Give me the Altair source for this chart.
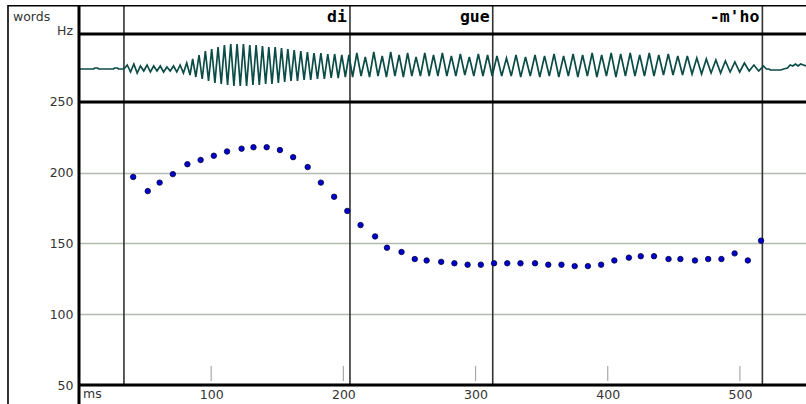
import altair as alt
import pandas as pd

# ---------------- data ----------------
# pitch track (ms, Hz)
f0_ms = [41, 52, 61, 71, 82, 92, 102, 112, 123, 132, 142, 152, 162, 173, 183, 193, 203, 213,
         224, 233, 244, 254, 263, 274, 284, 294, 304, 314, 324, 334, 345, 355, 365, 375, 385,
         395, 405, 416, 425, 435, 446, 455, 466, 476, 486, 496, 506, 516]
f0_hz = [197, 187, 193, 199, 206, 209, 212, 215, 217, 218, 218, 216, 211, 204, 193, 183, 173, 163,
         155, 147, 144, 139, 138, 137, 136, 135, 135, 136, 136, 136, 136, 135, 135, 134, 134,
         135, 138, 140, 141, 141, 139, 139, 138, 139, 139, 143, 138, 152]

# word tier
word_labels = ["di", "gue", "-m'ho"]
word_ends = [205, 313, 517]
boundaries = [34, 205, 313, 517]

# axis ticks
x_ticks = [100, 200, 300, 400, 500]
y_ticks = [50, 100, 150, 200, 250]

# waveform extrema (ms, offset in px from baseline), read per segment
pre_t = [0, 11, 12, 14, 15, 26, 27, 29, 30, 33]
pre_v = [0, 0, 1, 1, 0, 0, 1, 1, 0, 0]
onset_t = [34, 36.5, 39, 41.5, 44, 46.5, 49, 51.5, 54, 56.5, 59, 61.5, 64, 66.5, 69, 71.5, 74,
           76.5, 79, 81.5, 84]
onset_v = [0, 4, -3, 5, -4, 3, -2, 4, -3, 3, -2, 3, -3, 2, -2, 3, -3, 4, -4, 6, -6]
di_t = [86, 88.4, 90.8, 93.2, 95.6, 98, 100.4, 102.8, 105.2, 107.6, 110, 112.4, 114.8, 117.2,
        119.6, 122, 124.4, 126.8, 129.2, 131.6, 134, 136.4, 138.8, 141.2, 143.6, 146, 148.4,
        150.8, 153.2, 155.6, 158, 160.4, 162.8, 165.3, 167.8, 170.3, 172.8, 175.3, 177.8, 180.4,
        183, 185.6, 188.2, 190.8, 193.4, 196.1, 198.8, 201.5, 204.2]
di_v = [10, -8, 14, -10, 18, -12, 20, -14, 22, -15, 24, -16, 25, -17, 25, -17, 25, -17, 24, -16,
        24, -16, 23, -15, 22, -15, 22, -14, 21, -13, 20, -12, 19, -12, 18, -11, 17, -11, 16, -10,
        16, -10, 15, -9, 15, -9, 14, -8, 14]
gue_t = [207, 210.2, 213.4, 216.6, 219.8, 223, 226.2, 229.4, 232.6, 235.8, 239, 242.2, 245.4,
         248.6, 251.8, 255, 258.3, 261.6, 264.9, 268.2, 271.5, 274.9, 278.3, 281.7, 285.1, 288.5,
         291.9, 295.3, 298.7, 302.1, 305.6, 309.1, 312.6]
gue_v = [-8, 16, -7, 12, -8, 17, -7, 13, -8, 17, -7, 14, -8, 16, -7, 12, -7, 16, -7, 14,
         -7, 16, -7, 13, -7, 15, -6, 12, -7, 15, -7, 14, -7]
mho_t = [316.2, 319.8, 323.4, 327, 330.6, 334.2, 337.8, 341.4, 345, 348.6, 352.2, 355.8, 359.4,
         363, 366.6, 370.2, 373.8, 377.4, 381, 384.6, 388.2, 391.8, 395.4, 399, 402.6, 406.2,
         409.8, 413.4, 417, 420.6, 424.2, 427.8, 431.4, 435, 438.6, 442.2, 445.8, 449.4, 453,
         456.6, 460.2, 463.8, 467.4, 471, 474.6, 478.2, 481.8, 485.4, 489, 492.6, 496.2, 499.8,
         503.4, 507, 510.6, 514.2, 517.8]
mho_v = [13, -7, 11, -7, 14, -8, 12, -7, 14, -8, 13, -7, 15, -8, 13, -7, 15, -8, 14, -7,
         16, -8, 14, -7, 16, -8, 15, -7, 16, -7, 14, -7, 16, -7, 14, -6, 15, -6, 13, -6,
         13, -5, 11, -5, 10, -4, 9, -4, 8, -3, 7, -3, 6, -2, 4, -2, 3]
tail_t = [520, 522, 523, 531, 533, 536, 538, 540, 542, 544, 546, 548, 550]
tail_v = [0, 0, -1, -1, 0, 1, 4, 3, 5, 3, 5, 4, 3]

# ---------------- tables ----------------
pitch_df = pd.DataFrame({"ms": f0_ms, "hz": f0_hz})
wave_df = pd.DataFrame({
    "ms": pre_t + onset_t + di_t + gue_t + mho_t + tail_t,
    "amp": pre_v + onset_v + di_v + gue_v + mho_v + tail_v,
})
word_df = pd.DataFrame({"word": word_labels, "end": word_ends})
bound_df = pd.DataFrame({"ms": boundaries})
tick_df = pd.DataFrame({"ms": x_ticks})
one = pd.DataFrame({"k": [0]})

W, H = 727, 380
FONT = "DejaVu Sans"
xs = alt.Scale(domain=[0, 550], nice=False, zero=False)
x_axis = alt.Axis(values=x_ticks, title=None, domain=False, ticks=False, grid=False,
                  labelPadding=3, labelFont=FONT, labelFontSize=12.5, labelColor="#333333")

def X(field):
    return alt.X(field, scale=xs, axis=x_axis)

def frame_rule(x, x2, y, y2, width, color="#000000"):
    enc = dict(x=alt.value(x), y=alt.value(y))
    if x2 is not None:
        enc["x2"] = alt.value(x2)
    if y2 is not None:
        enc["y2"] = alt.value(y2)
    return alt.Chart(one).mark_rule(color=color, strokeWidth=width).encode(**enc)

# structural lines
outer_top = frame_rule(-71, W, 0.7, None, 1.6)
outer_left = frame_rule(-71, None, 0, 399, 1.6)
left_thick = frame_rule(0, None, 0, 399, 3)
h_words = frame_rule(0, W, 29, None, 3)
h_wave = frame_rule(0, W, 97, None, 3)
h_axis = frame_rule(0, W, 380, None, 3)

bounds = alt.Chart(bound_df).mark_rule(color="#333333", strokeWidth=1.6).encode(
    x=X("ms:Q"),
    y=alt.value(0), y2=alt.value(380),
)

ticks = alt.Chart(tick_df).mark_rule(color="#a8a8a8", strokeWidth=1.2).encode(
    x=X("ms:Q"),
    y=alt.value(361), y2=alt.value(376),
)

wave = alt.Chart(wave_df).mark_line(color="#0c4c47", strokeWidth=1.7).encode(
    x=X("ms:Q"),
    y=alt.Y("amp:Q", scale=alt.Scale(domain=[-316, 64], nice=False, zero=False), axis=None),
)

points = alt.Chart(pitch_df).mark_point(
    filled=True, fill="#0000d0", stroke="#00003a", strokeWidth=0.8, size=30, opacity=1
).encode(
    x=X("ms:Q"),
    y=alt.Y("hz:Q", scale=alt.Scale(domain=[50, 318.5], nice=False, zero=False),
            axis=alt.Axis(values=y_ticks, title=None, domain=False, ticks=False, grid=True,
                          gridColor="#b2bab2", gridWidth=1.5, labelPadding=6,
                          labelFont=FONT, labelFontSize=12.5, labelColor="#333333")),
)

words = alt.Chart(word_df).mark_text(
    align="right", baseline="alphabetic", dx=-3, font="DejaVu Sans Mono",
    fontWeight="bold", fontSize=16.5, color="#000000"
).encode(
    x=X("end:Q"),
    y=alt.value(17),
    text="word:N",
)

def label(txt, x, y, align):
    return alt.Chart(pd.DataFrame({"t": [txt]})).mark_text(
        align=align, baseline="middle", font=FONT, fontSize=12.5, color="#333333"
    ).encode(x=alt.value(x), y=alt.value(y), text="t:N")

lab_words = label("words", -66, 12, "left")
lab_hz = label("Hz", -6, 26, "right")
lab_ms = label("ms", 4, 389, "left")

chart = alt.layer(
    bounds, ticks, wave, outer_top, outer_left, left_thick, h_words, h_wave, h_axis,
    points, words, lab_words, lab_hz, lab_ms
).resolve_scale(y="independent").properties(
    width=W, height=H,
    autosize=alt.AutoSizeParams(type="none"),
    padding={"left": 79, "top": 5, "right": 0, "bottom": 19},
    background="white",
).configure_view(stroke=None)

chart.save("out.html", embed_options={"renderer": "svg", "actions": False})
